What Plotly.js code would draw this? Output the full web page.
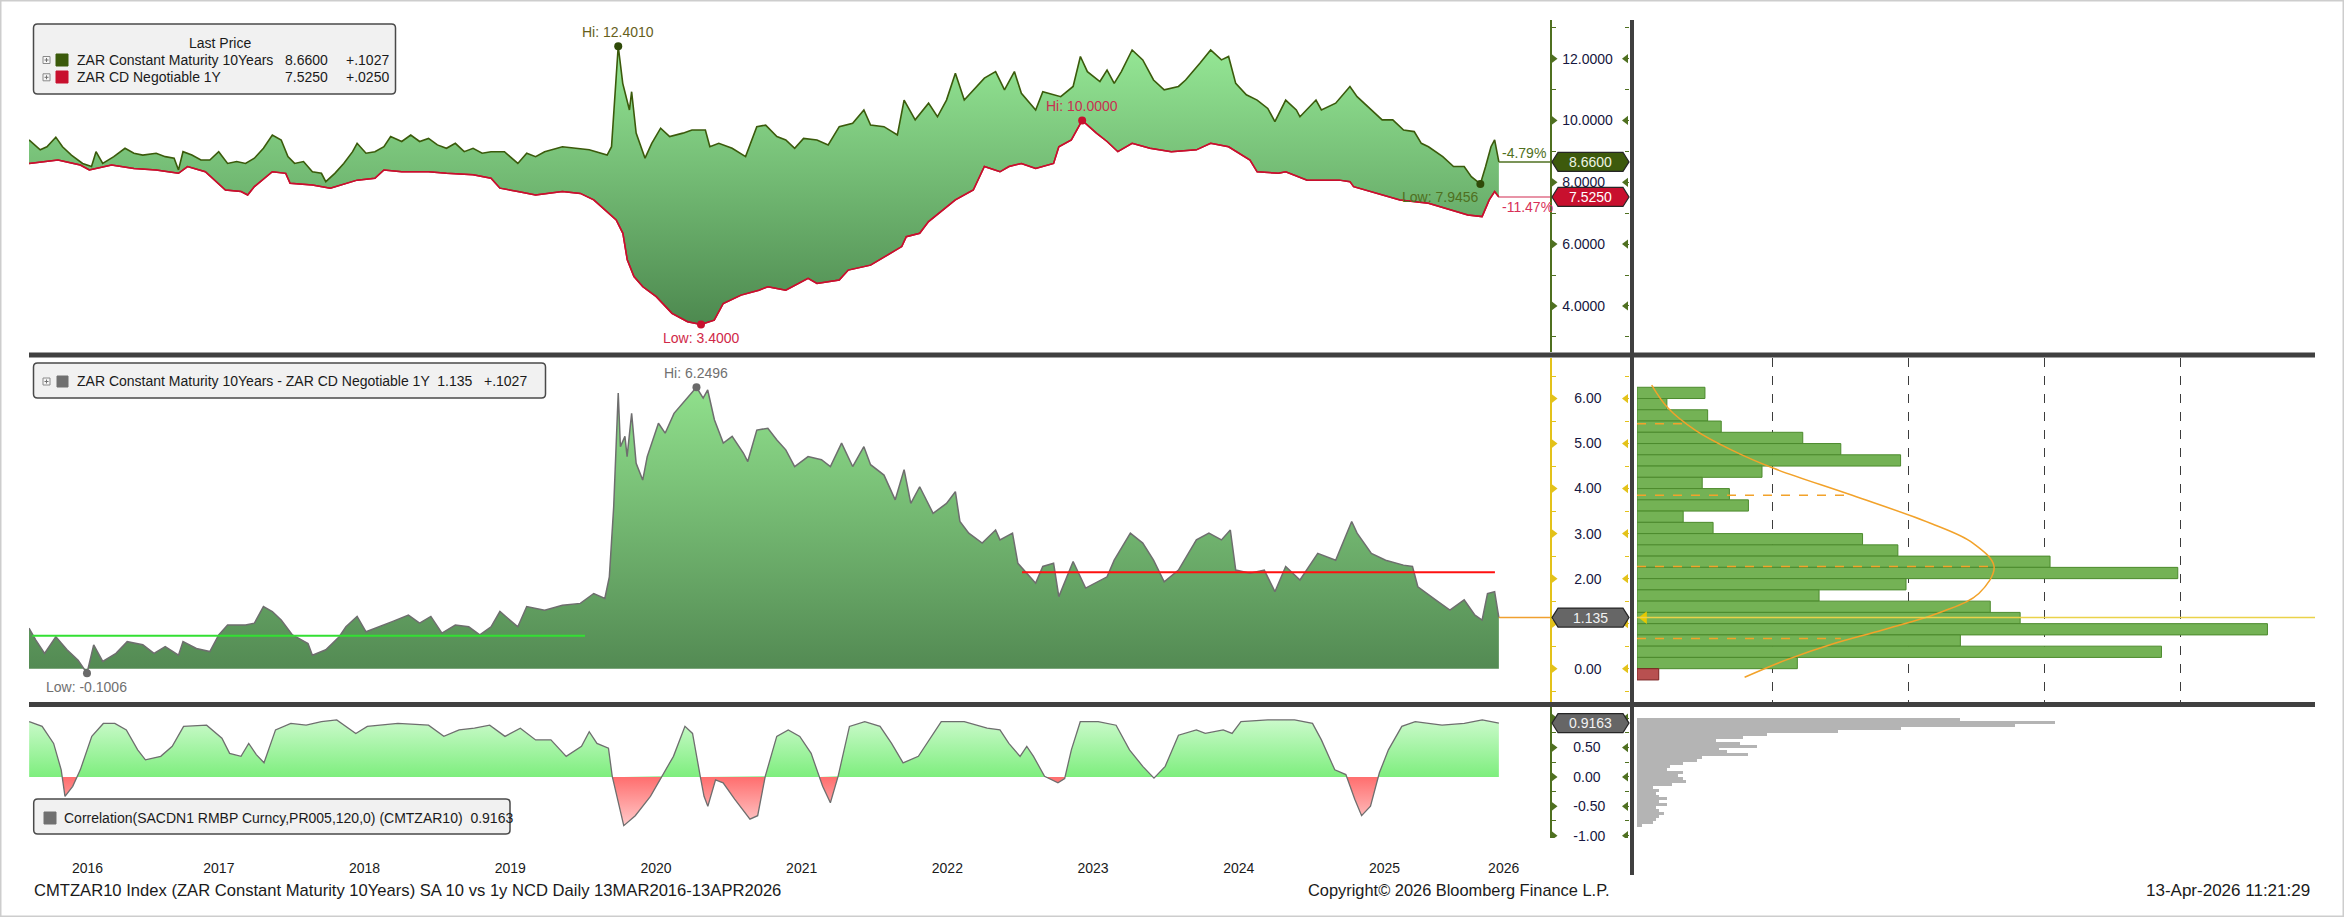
<!DOCTYPE html>
<html><head><meta charset="utf-8">
<script src="https://cdn.plot.ly/plotly-3.0.1.min.js"></script>
<style>html,body{margin:0;padding:0;background:#fff;}#chart{width:2344px;height:917px;}</style>
</head><body><div id="chart"></div>
<script>
// ---------------- DATA (x = decimal year) ----------------
const cm10Series = [[2016.197,9.37],[2016.274,9.05],[2016.320,9.15],[2016.381,9.46],[2016.427,9.15],[2016.488,8.88],[2016.565,8.61],[2016.626,8.51],[2016.657,8.99],[2016.703,8.61],[2016.779,8.83],[2016.856,9.10],[2016.917,8.94],[2016.978,8.88],[2017.070,8.94],[2017.132,8.83],[2017.193,8.78],[2017.223,8.40],[2017.254,8.99],[2017.315,8.88],[2017.377,8.72],[2017.438,8.72],[2017.499,8.99],[2017.560,8.61],[2017.622,8.67],[2017.683,8.61],[2017.744,8.78],[2017.806,9.10],[2017.867,9.53],[2017.928,9.37],[2017.974,8.83],[2018.020,8.61],[2018.081,8.67],[2018.142,8.34],[2018.204,8.29],[2018.234,8.02],[2018.296,8.29],[2018.357,8.61],[2018.418,8.99],[2018.449,9.26],[2018.510,8.94],[2018.571,8.99],[2018.633,9.15],[2018.679,9.48],[2018.755,9.32],[2018.817,9.53],[2018.878,9.32],[2018.939,9.42],[2019.000,9.21],[2019.062,9.10],[2019.123,9.26],[2019.184,8.99],[2019.245,9.10],[2019.307,8.94],[2019.368,8.99],[2019.460,8.99],[2019.552,8.61],[2019.613,8.94],[2019.674,8.83],[2019.736,8.99],[2019.858,9.15],[2019.950,9.10],[2020.042,9.05],[2020.165,8.88],[2020.195,9.15],[2020.241,12.401],[2020.272,11.20],[2020.318,10.34],[2020.333,10.93],[2020.364,9.59],[2020.425,8.78],[2020.471,9.26],[2020.532,9.75],[2020.594,9.48],[2020.685,9.59],[2020.747,9.69],[2020.839,9.69],[2020.870,9.15],[2020.931,9.26],[2021.023,9.10],[2021.115,8.83],[2021.192,9.80],[2021.253,9.85],[2021.330,9.48],[2021.391,9.37],[2021.452,9.10],[2021.513,9.42],[2021.605,9.37],[2021.682,9.21],[2021.758,9.80],[2021.850,9.91],[2021.927,10.34],[2021.973,9.85],[2022.065,9.80],[2022.157,9.53],[2022.203,10.66],[2022.279,10.02],[2022.371,10.56],[2022.432,10.12],[2022.494,10.66],[2022.555,11.53],[2022.616,10.66],[2022.678,10.99],[2022.754,11.37],[2022.831,11.58],[2022.892,10.99],[2022.960,11.58],[2023.008,10.88],[2023.106,10.34],[2023.155,10.93],[2023.278,10.77],[2023.363,11.10],[2023.413,12.07],[2023.461,11.58],[2023.547,11.26],[2023.596,11.63],[2023.645,11.20],[2023.694,11.58],[2023.768,12.28],[2023.841,11.96],[2023.915,11.31],[2023.988,10.99],[2024.086,11.10],[2024.135,11.31],[2024.233,11.85],[2024.307,12.28],[2024.381,11.96],[2024.430,12.07],[2024.479,11.20],[2024.552,10.83],[2024.626,10.66],[2024.699,10.39],[2024.748,9.96],[2024.822,10.66],[2024.895,10.34],[2024.920,10.12],[2025.030,10.66],[2025.067,10.34],[2025.165,10.56],[2025.263,11.10],[2025.312,10.77],[2025.410,10.34],[2025.484,10.02],[2025.557,10.02],[2025.631,9.69],[2025.704,9.64],[2025.753,9.26],[2025.802,9.15],[2025.900,8.83],[2025.974,8.51],[2026.047,8.51],[2026.096,8.18],[2026.158,7.9456],[2026.194,8.51],[2026.231,9.15],[2026.256,9.37],[2026.285,8.66]];

const ncdSeries = [[2016.197,8.61],[2016.396,8.72],[2016.549,8.56],[2016.611,8.40],[2016.764,8.56],[2016.917,8.45],[2017.070,8.40],[2017.223,8.29],[2017.285,8.51],[2017.407,8.34],[2017.545,7.75],[2017.652,7.70],[2017.698,7.59],[2017.744,7.86],[2017.867,8.34],[2017.959,8.29],[2017.989,7.97],[2018.142,7.91],[2018.265,7.81],[2018.418,8.02],[2018.449,8.07],[2018.571,8.13],[2018.633,8.40],[2018.755,8.34],[2018.939,8.34],[2019.062,8.29],[2019.245,8.24],[2019.368,8.13],[2019.429,7.81],[2019.552,7.70],[2019.674,7.59],[2019.858,7.70],[2019.981,7.64],[2020.073,7.43],[2020.165,7.05],[2020.227,6.78],[2020.273,6.35],[2020.303,5.49],[2020.349,4.95],[2020.410,4.62],[2020.502,4.30],[2020.610,3.76],[2020.717,3.49],[2020.809,3.40],[2020.900,3.54],[2020.962,4.08],[2021.084,4.35],[2021.207,4.51],[2021.268,4.62],[2021.391,4.51],[2021.544,4.89],[2021.605,4.73],[2021.758,4.84],[2021.820,5.16],[2021.973,5.32],[2022.065,5.59],[2022.187,5.92],[2022.218,6.24],[2022.310,6.35],[2022.371,6.73],[2022.494,7.21],[2022.555,7.43],[2022.678,7.75],[2022.754,8.51],[2022.861,8.34],[2022.923,8.51],[2023.008,8.61],[2023.106,8.45],[2023.229,8.61],[2023.265,9.15],[2023.351,9.37],[2023.425,10.00],[2023.523,9.59],[2023.596,9.32],[2023.670,8.99],[2023.768,9.26],[2023.890,9.10],[2024.037,8.99],[2024.209,9.05],[2024.307,9.26],[2024.430,9.15],[2024.577,8.72],[2024.626,8.34],[2024.773,8.29],[2024.822,8.34],[2024.969,8.07],[2025.190,8.07],[2025.263,8.02],[2025.288,7.86],[2025.410,7.70],[2025.606,7.43],[2025.802,7.32],[2025.949,7.10],[2026.072,6.94],[2026.170,6.89],[2026.219,7.43],[2026.256,7.70],[2026.285,7.525]];

const spreadSeries = [[2016.197,0.90],[2016.243,0.64],[2016.304,0.34],[2016.381,0.71],[2016.458,0.42],[2016.534,0.19],[2016.595,-0.1006],[2016.641,0.53],[2016.703,0.16],[2016.794,0.34],[2016.871,0.60],[2016.978,0.53],[2017.055,0.34],[2017.132,0.49],[2017.223,0.30],[2017.254,0.60],[2017.346,0.45],[2017.438,0.38],[2017.499,0.75],[2017.560,0.97],[2017.683,0.97],[2017.744,1.01],[2017.806,1.38],[2017.867,1.27],[2017.928,1.08],[2018.005,0.75],[2018.112,0.56],[2018.142,0.30],[2018.234,0.42],[2018.326,0.71],[2018.372,0.93],[2018.449,1.16],[2018.510,0.82],[2018.602,0.93],[2018.694,1.05],[2018.801,1.19],[2018.878,1.01],[2018.955,1.16],[2019.031,0.79],[2019.123,0.97],[2019.215,0.93],[2019.291,0.75],[2019.368,0.93],[2019.429,1.27],[2019.552,0.93],[2019.613,1.38],[2019.736,1.30],[2019.858,1.41],[2019.981,1.45],[2020.073,1.67],[2020.149,1.56],[2020.180,2.04],[2020.210,3.60],[2020.241,6.12],[2020.256,4.93],[2020.287,5.16],[2020.302,4.71],[2020.333,5.67],[2020.364,4.56],[2020.409,4.19],[2020.440,4.71],[2020.517,5.45],[2020.563,5.23],[2020.624,5.67],[2020.701,5.97],[2020.778,6.2496],[2020.824,6.01],[2020.855,6.19],[2020.901,5.53],[2020.962,5.01],[2021.023,5.16],[2021.100,4.79],[2021.130,4.60],[2021.192,5.30],[2021.268,5.34],[2021.330,5.08],[2021.391,4.86],[2021.452,4.49],[2021.544,4.71],[2021.636,4.64],[2021.697,4.49],[2021.774,5.01],[2021.850,4.49],[2021.927,4.93],[2021.973,4.53],[2022.065,4.30],[2022.142,3.75],[2022.203,4.42],[2022.249,3.67],[2022.310,4.04],[2022.402,3.45],[2022.494,3.67],[2022.555,3.93],[2022.586,3.27],[2022.647,3.01],[2022.739,2.79],[2022.831,3.08],[2022.861,2.86],[2022.947,3.01],[2022.984,2.34],[2023.106,1.90],[2023.155,2.27],[2023.229,2.34],[2023.265,1.60],[2023.363,2.38],[2023.449,1.79],[2023.596,2.04],[2023.645,2.41],[2023.756,3.01],[2023.841,2.79],[2023.915,2.41],[2023.988,1.93],[2024.086,2.19],[2024.209,2.86],[2024.295,3.01],[2024.381,2.86],[2024.442,3.08],[2024.479,2.19],[2024.577,2.12],[2024.675,2.19],[2024.748,1.71],[2024.822,2.27],[2024.920,1.97],[2025.042,2.56],[2025.165,2.41],[2025.275,3.27],[2025.312,3.01],[2025.410,2.56],[2025.508,2.41],[2025.630,2.30],[2025.692,2.27],[2025.729,1.82],[2025.851,1.53],[2025.949,1.30],[2026.047,1.53],[2026.121,1.19],[2026.170,1.08],[2026.207,1.67],[2026.256,1.71],[2026.285,1.135]];

const corrSeries = [[2016.198,0.94],[2016.287,0.86],[2016.366,0.57],[2016.418,0.12],[2016.444,-0.33],[2016.497,-0.16],[2016.549,0.12],[2016.628,0.69],[2016.707,0.91],[2016.786,0.91],[2016.865,0.80],[2016.943,0.46],[2016.996,0.29],[2017.101,0.35],[2017.180,0.52],[2017.258,0.86],[2017.416,0.88],[2017.521,0.66],[2017.574,0.40],[2017.652,0.35],[2017.705,0.57],[2017.757,0.38],[2017.810,0.24],[2017.889,0.80],[2017.994,0.91],[2018.099,0.88],[2018.204,0.94],[2018.309,0.97],[2018.440,0.74],[2018.519,0.86],[2018.729,0.91],[2018.939,0.88],[2019.044,0.69],[2019.149,0.80],[2019.254,0.83],[2019.359,0.88],[2019.464,0.69],[2019.569,0.83],[2019.674,0.63],[2019.779,0.63],[2019.884,0.35],[2019.989,0.52],[2020.042,0.77],[2020.095,0.57],[2020.174,0.49],[2020.200,0.01],[2020.279,-0.83],[2020.358,-0.66],[2020.462,-0.33],[2020.541,0.01],[2020.620,0.35],[2020.699,0.86],[2020.751,0.74],[2020.804,0.01],[2020.830,-0.33],[2020.856,-0.50],[2020.909,-0.05],[2020.961,-0.10],[2021.040,-0.38],[2021.145,-0.72],[2021.198,-0.66],[2021.250,0.01],[2021.329,0.69],[2021.408,0.80],[2021.487,0.69],[2021.565,0.40],[2021.644,-0.16],[2021.697,-0.44],[2021.750,0.01],[2021.828,0.86],[2021.933,0.94],[2022.038,0.86],[2022.117,0.57],[2022.196,0.24],[2022.301,0.35],[2022.458,0.94],[2022.616,0.94],[2022.773,0.83],[2022.861,0.80],[2022.922,0.57],[2022.999,0.35],[2023.045,0.52],[2023.091,0.35],[2023.167,0.01],[2023.259,-0.10],[2023.305,-0.03],[2023.351,0.46],[2023.412,0.94],[2023.535,0.94],[2023.658,0.88],[2023.750,0.46],[2023.841,0.18],[2023.918,-0.02],[2023.995,0.18],[2024.086,0.71],[2024.209,0.80],[2024.270,0.74],[2024.393,0.80],[2024.454,0.74],[2024.515,0.94],[2024.699,0.97],[2024.883,0.97],[2025.006,0.91],[2025.067,0.63],[2025.159,0.12],[2025.235,0.04],[2025.296,-0.38],[2025.343,-0.66],[2025.404,-0.50],[2025.465,0.07],[2025.527,0.46],[2025.619,0.86],[2025.711,0.94],[2025.895,0.88],[2026.048,0.91],[2026.171,0.97],[2026.232,0.94],[2026.285,0.9163]];

// spread distribution histogram (bin lower edge, relative count)
const spreadBinStarts = [6.00,5.75,5.50,5.25,5.00,4.75,4.50,4.25,4.00,3.75,3.50,3.25,3.00,2.75,2.50,2.25,2.00,1.75,1.50,1.25,1.00,0.75,0.50,0.25,0.00,-0.25];
const spreadBinCounts = [25,11,26,31,61,75,97,46,24,34,41,17,28,83,96,152,199,99,67,130,141,232,119,193,59,8];
// fitted normal curve (level, count)
const bellLevels = [6.30,5.79,5.30,4.86,4.45,3.85,3.23,2.79,2.27,1.67,1.27,0.86,0.56,0.19,-0.19];
const bellCounts = [5.4,11.4,21.4,34.7,50.3,79.2,108,123.6,131.4,125.8,112.5,90.4,72.5,54.7,39.6];
// mean / sigma guide lines (level, reach)
const sigmaLevels = [5.44,3.85,2.27,0.67];
const sigmaReach = [18,79,131,75];
// correlation distribution
const corrBinStarts = [0.95,0.90,0.85,0.80,0.75,0.70,0.65,0.60,0.55,0.50,0.45,0.40,0.35,0.30,0.25,0.20,0.15,0.10,0.05,0.00,-0.05,-0.10,-0.15,-0.20,-0.25,-0.30,-0.35,-0.40,-0.45,-0.50,-0.55,-0.60,-0.65,-0.70,-0.75,-0.80,-0.85];
const corrBinCounts = [119,154,139,97,74,48,39,29,38,44,30,33,41,24,22,17,12,11,17,15,17,18,13,6,8,7,8,11,8,11,7,8,10,8,7,6,2];
// horizontal reference lines on the spread panel [from, to, level]
const spreadGreenLine = [2016.22, 2020.013, 0.73];
const spreadRedLine = [2023.012, 2026.258, 2.14];
// axis ticks
const topTicks = [4,6,8,10,12];
const midTicks = [0,1,2,3,4,5,6];
const botTicks = [-1,-0.5,0,0.5,1];
const yearLabels = [2016,2017,2018,2019,2020,2021,2022,2023,2024,2025,2026];
// texts
const legendTop = [["ZAR Constant Maturity 10Years","8.6600","+.1027"],["ZAR CD Negotiable 1Y","7.5250","+.0250"]];
const legendMid = "ZAR Constant Maturity 10Years - ZAR CD Negotiable 1Y  1.135   +.1027";
const legendBot = "Correlation(SACDN1 RMBP Curncy,PR005,120,0) (CMTZAR10)  0.9163";
const pctLabels = ["-4.79%","-11.47%"];
const footerLeft = "CMTZAR10 Index (ZAR Constant Maturity 10Years) SA 10 vs 1y NCD Daily 13MAR2016-13APR2026";
const footerMid = "Copyright\u00a9 2026 Bloomberg Finance L.P.";
const footerRight = "13-Apr-2026 11:21:29";

// ---------------- RENDER ----------------
const W = 2344, H = 917;
const fx = p => p / W, fy = p => 1 - p / H;
const FONT = '"Liberation Sans", Arial, sans-serif';
const X0 = 2016.197, X1 = 2026.636;
const col = s => s.map(p => p[0]);
const val = s => s.map(p => p[1]);
const cmX = col(cm10Series), cmY = val(cm10Series);
const ncX = col(ncdSeries), ncY = val(ncdSeries);
const spX = col(spreadSeries), spY = val(spreadSeries);
const crX = col(corrSeries), crY = val(corrSeries);
const last = a => a[a.length - 1];
const argmax = a => a.indexOf(Math.max(...a));
const argmin = a => a.indexOf(Math.min(...a));

const GREEN = '#3b5a0b', RED = '#c8102e', AXG = '#4f7020', AXY = '#e3c21a', TICKTXT = '#161640';

// split correlation at zero for two-colour fill
function splitSign(xs, ys) {
  const pos = {x: [], y: []}, neg = {x: [], y: []};
  for (let i = 0; i < xs.length; i++) {
    if (i > 0 && (ys[i - 1] > 0) !== (ys[i] > 0) && ys[i - 1] !== ys[i]) {
      const xc = xs[i - 1] + (0 - ys[i - 1]) * (xs[i] - xs[i - 1]) / (ys[i] - ys[i - 1]);
      pos.x.push(xc); pos.y.push(0); neg.x.push(xc); neg.y.push(0);
    }
    pos.x.push(xs[i]); pos.y.push(Math.max(ys[i], 0));
    neg.x.push(xs[i]); neg.y.push(Math.min(ys[i], 0));
  }
  return {pos, neg};
}
const cs = splitSign(crX, crY);

const traces = [];
// --- top panel
traces.push({type: 'scatter', x: ncX, y: ncY, xaxis: 'x', yaxis: 'y', mode: 'lines', line: {color: RED, width: 1.5}, hoverinfo: 'skip'});
traces.push({type: 'scatter', x: cmX, y: cmY, xaxis: 'x', yaxis: 'y', mode: 'lines', line: {color: GREEN, width: 1.6}, fill: 'tonexty',
  fillgradient: {type: 'vertical', start: Math.min(...ncY), stop: Math.max(...cmY), colorscale: [[0, '#4d894f'], [1, '#95e795']]}, hoverinfo: 'skip'});
traces.push({type: 'scatter', x: ncX, y: ncY, xaxis: 'x', yaxis: 'y', mode: 'lines', line: {color: RED, width: 1.5}, hoverinfo: 'skip'});
// hi / low dots top
const iHi = argmax(cmY), iLo = argmin(cmY), jHi = argmax(ncY), jLo = argmin(ncY);
traces.push({type: 'scatter', x: [cmX[iHi], cmX[iLo]], y: [cmY[iHi], cmY[iLo]], xaxis: 'x', yaxis: 'y', mode: 'markers', marker: {color: '#2f4a08', size: 8}, hoverinfo: 'skip'});
traces.push({type: 'scatter', x: [ncX[jHi], ncX[jLo]], y: [ncY[jHi], ncY[jLo]], xaxis: 'x', yaxis: 'y', mode: 'markers', marker: {color: RED, size: 8}, hoverinfo: 'skip'});
// --- middle panel
traces.push({type: 'scatter', x: spX, y: spY, xaxis: 'x', yaxis: 'y2', mode: 'lines', line: {color: '#6e6e6e', width: 1.5}, fill: 'tozeroy',
  fillgradient: {type: 'vertical', start: 0, stop: Math.max(...spY), colorscale: [[0, '#538a53'], [1, '#90e08c']]}, hoverinfo: 'skip'});
const kHi = argmax(spY), kLo = argmin(spY);
traces.push({type: 'scatter', x: [spX[kHi], spX[kLo]], y: [spY[kHi], spY[kLo]], xaxis: 'x', yaxis: 'y2', mode: 'markers', marker: {color: '#6a6a6a', size: 8}, hoverinfo: 'skip'});
// histogram of spread
traces.push({type: 'bar', orientation: 'h', x: spreadBinCounts, y: spreadBinStarts.map(b => b + 0.125), width: 0.25, xaxis: 'x2', yaxis: 'y2',
  marker: {color: spreadBinStarts.map(b => b < 0 ? '#b85050' : '#74b255'), line: {color: spreadBinStarts.map(b => b < 0 ? '#7a2020' : '#4c8a2d'), width: 1}}, hoverinfo: 'skip'});
traces.push({type: 'scatter', x: bellCounts, y: bellLevels, xaxis: 'x2', yaxis: 'y2', mode: 'lines', line: {color: '#f2a22a', width: 1.5, shape: 'spline'}, hoverinfo: 'skip'});
traces.push({type: 'scatter', x: [2.6], y: [last(spY)], xaxis: 'x2', yaxis: 'y2', mode: 'markers', marker: {symbol: 'triangle-left', size: 11, color: '#e6c800'}, hoverinfo: 'skip'});
// --- bottom panel
traces.push({type: 'scatter', x: cs.pos.x, y: cs.pos.y, xaxis: 'x', yaxis: 'y3', mode: 'lines', line: {width: 0}, fill: 'tozeroy',
  fillgradient: {type: 'vertical', start: 0, stop: 1, colorscale: [[0, '#7eee7e'], [1, '#cdfacd']]}, hoverinfo: 'skip'});
traces.push({type: 'scatter', x: cs.neg.x, y: cs.neg.y, xaxis: 'x', yaxis: 'y3', mode: 'lines', line: {width: 0}, fill: 'tozeroy',
  fillgradient: {type: 'vertical', start: Math.min(...crY), stop: 0, colorscale: [[0, '#ffcaca'], [1, '#ff6e6e']]}, hoverinfo: 'skip'});
traces.push({type: 'scatter', x: crX, y: crY, xaxis: 'x', yaxis: 'y3', mode: 'lines', line: {color: '#6e6e6e', width: 1.3}, hoverinfo: 'skip'});
traces.push({type: 'bar', orientation: 'h', x: corrBinCounts, y: corrBinStarts.map(b => b + 0.025), width: 0.05, xaxis: 'x3', yaxis: 'y3',
  marker: {color: '#b4b4b4', line: {width: 0}}, hoverinfo: 'skip'});
// axis triangles (tick markers) on both sides of the label column
const triSets = [[topTicks, 'y4', AXG], [midTicks, 'y5', AXY], [botTicks, 'y6', AXG]];
triSets.forEach(([tv, ya, c]) => {
  traces.push({type: 'scatter', x: tv.map(() => 3.5), y: tv, xaxis: 'x4', yaxis: ya, mode: 'markers', marker: {symbol: 'triangle-right', size: 8, color: c}, hoverinfo: 'skip'});
  traces.push({type: 'scatter', x: tv.map(() => 76), y: tv, xaxis: 'x4', yaxis: ya, mode: 'markers', marker: {symbol: 'triangle-left', size: 8, color: c}, hoverinfo: 'skip'});
});

// x ticks at the middle of each visible year
const yearTickPos = yearLabels.map(y => (Math.max(y, X0) + Math.min(y + 1, X1)) / 2);

const pxTop = [20, 352], pxMid = [358, 702], pxBot = [707, 838];
const domOf = p => [fy(p[1]), fy(p[0])];
const domTop = domOf(pxTop), domMid = domOf(pxMid), domBot = domOf(pxBot);
const rTop = [2.51, 13.25], rMid = [-0.74, 6.90], rBot = [-1.04, 1.19];
// tick labels that sit under a value tag are hidden (as in the original, where the tag covers them)
function tickText(ticks, dec, px, rng, tagVals) {
  const ppu = (px[1] - px[0]) / (rng[1] - rng[0]);
  return ticks.map(v => tagVals.some(t => Math.abs(t - v) * ppu < 11) ? '' : v.toFixed(dec));
}
function yAx(dom, rng, ticks, labels, minor0, minorD, color, standoff) {
  return {domain: dom, range: rng, anchor: 'free', position: fx(1550), side: 'right', showline: true, linecolor: color, linewidth: 1.5,
    showgrid: false, zeroline: false, tickmode: 'array', tickvals: ticks, ticktext: labels,
    ticks: 'outside', ticklen: 4, tickcolor: color, tickfont: {family: FONT, size: 14, color: TICKTXT}, ticklabelstandoff: standoff,
    minor: {tickmode: 'linear', tick0: minor0, dtick: minorD, ticks: 'outside', ticklen: 4, tickcolor: color}, automargin: false, fixedrange: true};
}
function yAxR(dom, rng, ticks, minor0, minorD, color) {
  return {domain: dom, range: rng, anchor: 'free', position: fx(1629), side: 'left', showline: false, showgrid: false, zeroline: false,
    showticklabels: false, tickmode: 'array', tickvals: ticks, ticks: 'outside', ticklen: 4, tickcolor: color,
    minor: {tickmode: 'linear', tick0: minor0, dtick: minorD, ticks: 'outside', ticklen: 4, tickcolor: color}, automargin: false, fixedrange: true};
}

// ---------- shapes ----------
const shapes = [];
const pxLine = (x0, y0, x1, y1, color, width, dash) => ({type: 'line', xref: 'paper', yref: 'paper', x0: fx(x0), y0: fy(y0), x1: fx(x1), y1: fy(y1), line: {color, width, dash: dash || 'solid'}});
function roundRect(x0, y0, x1, y1, r) {
  const Y = v => -v;
  return `M${x0 + r},${Y(y0)} L${x1 - r},${Y(y0)} Q${x1},${Y(y0)} ${x1},${Y(y0 + r)} L${x1},${Y(y1 - r)} Q${x1},${Y(y1)} ${x1 - r},${Y(y1)} L${x0 + r},${Y(y1)} Q${x0},${Y(y1)} ${x0},${Y(y1 - r)} L${x0},${Y(y0 + r)} Q${x0},${Y(y0)} ${x0 + r},${Y(y0)} Z`;
}
const boxShape = (x0, y0, x1, y1) => ({type: 'path', xref: 'paper', yref: 'paper', xsizemode: 'pixel', ysizemode: 'pixel', xanchor: 0, yanchor: 1,
  path: roundRect(x0, y0, x1, y1, 4), fillcolor: '#f1f1f1', line: {color: '#4a4a4a', width: 1.5}});
const rectPx = (x0, y0, x1, y1, fill, lc) => ({type: 'rect', xref: 'paper', yref: 'paper', x0: fx(x0), y0: fy(y1), x1: fx(x1), y1: fy(y0), fillcolor: fill, line: {color: lc || fill, width: 1}});
const tagShape = (yref, v, fill) => ({type: 'path', xref: 'paper', yref, xsizemode: 'pixel', ysizemode: 'pixel', xanchor: 0, yanchor: v,
  path: 'M1552,0 L1558,9.5 L1623,9.5 L1629,0 L1623,-9.5 L1558,-9.5 Z', fillcolor: fill, line: {color: '#262626', width: 1.2}});
// small "expand" icon of the legend rows
const plusBox = (cx, cy) => [
  {type: 'rect', xref: 'paper', yref: 'paper', x0: fx(cx - 3.5), x1: fx(cx + 3.5), y0: fy(cy + 3.5), y1: fy(cy - 3.5), fillcolor: '#f6f6f6', line: {color: '#8a8a8a', width: 1}},
  pxLine(cx - 2, cy, cx + 2, cy, '#707070', 1), pxLine(cx, cy - 2, cx, cy + 2, '#707070', 1)];

// end-of-series guide lines
shapes.push({type: 'line', xref: 'x', yref: 'y', x0: last(cmX), x1: X1, y0: last(cmY), y1: last(cmY), line: {color: '#4f7020', width: 1.5}});
shapes.push({type: 'line', xref: 'x', yref: 'y', x0: last(ncX), x1: X1, y0: last(ncY), y1: last(ncY), line: {color: '#e0708a', width: 1.5}});
shapes.push({type: 'line', xref: 'x', yref: 'y2', x0: last(spX), x1: X1, y0: last(spY), y1: last(spY), line: {color: '#f0a030', width: 1.5}});
// reference lines on spread panel
shapes.push({type: 'line', xref: 'x', yref: 'y2', x0: spreadGreenLine[0], x1: spreadGreenLine[1], y0: spreadGreenLine[2], y1: spreadGreenLine[2], line: {color: '#33e033', width: 2}});
shapes.push({type: 'line', xref: 'x', yref: 'y2', x0: spreadRedLine[0], x1: spreadRedLine[1], y0: spreadRedLine[2], y1: spreadRedLine[2], line: {color: '#ff1010', width: 2}});
// sigma guide lines and current-level line in histogram
sigmaLevels.forEach((lv, i) => shapes.push({type: 'line', xref: 'x2', yref: 'y2', x0: 0, x1: sigmaReach[i], y0: lv, y1: lv, line: {color: '#f2a22a', width: 1.5, dash: 'dash'}}));
shapes.push({type: 'line', xref: 'paper', yref: 'y2', x0: fx(1637), x1: fx(2315), y0: last(spY), y1: last(spY), line: {color: '#ead24a', width: 1.5}});
// separators and frame
shapes.push(pxLine(29, 355, 2315, 355, '#404040', 5));
shapes.push(pxLine(29, 704.5, 2315, 704.5, '#404040', 5));
shapes.push(pxLine(1632, 20, 1632, 875, '#404040', 4));
shapes.push({type: 'rect', xref: 'paper', yref: 'paper', x0: 0, y0: 0, x1: 1, y1: 1, line: {color: '#cdcdcd', width: 3}});
// legend boxes
shapes.push(boxShape(33.5, 24, 395.5, 94));
shapes.push(rectPx(56, 54, 68, 66, GREEN));
shapes.push(rectPx(56, 71, 68, 83, RED));
shapes.push(...plusBox(46.5, 60), ...plusBox(46.5, 77.3));
shapes.push(boxShape(33.5, 363, 545.5, 398));
shapes.push(rectPx(57, 376, 68, 387, '#707070'));
shapes.push(...plusBox(46.5, 381.5));
shapes.push(boxShape(33.7, 799, 510, 834));
shapes.push(rectPx(44, 812, 56, 824, '#707070'));
// value tags
shapes.push(tagShape('y', last(cmY), '#3d5a0c'));
shapes.push(tagShape('y', last(ncY), '#c8102e'));
shapes.push(tagShape('y2', last(spY), '#666666'));
shapes.push(tagShape('y3', last(crY), '#666666'));

// ---------- annotations ----------
const anns = [];
const txt = (text, xpx, ypx, o = {}) => anns.push({text, x: fx(xpx), y: fy(ypx), xref: 'paper', yref: 'paper', xanchor: o.xa || 'left', yanchor: 'middle',
  showarrow: false, font: {family: o.family || FONT, size: o.size || 14, color: o.color || '#1a1a1a'}});
const dtxt = (text, x, y, yref, o = {}) => anns.push({text, x, y, xref: o.xref || 'x', yref, xanchor: o.xa || 'center', yanchor: o.ya || 'middle',
  xshift: o.xs || 0, yshift: o.ys || 0, showarrow: false, font: {family: FONT, size: o.size || 14, color: o.color || '#1a1a1a'}});

txt('Last Price', 220, 43, {xa: 'center'});
legendTop.forEach((row, i) => {
  const y = 60 + i * 17.3;
  txt(row[0], 75, y);
  txt(row[1], 330, y, {xa: 'right'});
  txt(row[2], 344, y);
});
txt(legendMid, 75, 381);
txt(legendBot, 62, 818);
// tags text
dtxt(last(cmY).toFixed(4), fx(1590.5), last(cmY), 'y', {xref: 'paper', color: '#eef4e4'});
dtxt(last(ncY).toFixed(4), fx(1590.5), last(ncY), 'y', {xref: 'paper', color: '#ffffff'});
dtxt(String(last(spY)), fx(1590.5), last(spY), 'y2', {xref: 'paper', color: '#f2f2f2'});
dtxt(last(crY).toFixed(4), fx(1590.5), last(crY), 'y3', {xref: 'paper', color: '#f2f2f2'});
// percent labels
dtxt(pctLabels[0], last(cmX), last(cmY), 'y', {xa: 'left', xs: 1, ys: 9, color: '#4f7020'});
dtxt(pctLabels[1], last(ncX), last(ncY), 'y', {xa: 'left', xs: 1, ys: -10, color: '#d83058'});
// hi / low labels
dtxt('Hi: ' + cmY[iHi].toFixed(4), cmX[iHi], cmY[iHi], 'y', {ya: 'bottom', ys: 4, color: '#66601c'});
dtxt('Low: ' + cmY[iLo].toFixed(4), cmX[iLo], cmY[iLo], 'y', {xa: 'right', ya: 'top', ys: -3, color: '#4f7020'});
dtxt('Hi: ' + ncY[jHi].toFixed(4), ncX[jHi], ncY[jHi], 'y', {ya: 'bottom', ys: 4, color: '#c83050'});
dtxt('Low: ' + ncY[jLo].toFixed(4), ncX[jLo], ncY[jLo], 'y', {ya: 'top', ys: -4, color: '#d02848'});
dtxt('Hi: ' + spY[kHi].toFixed(4), spX[kHi], spY[kHi], 'y2', {ya: 'bottom', ys: 4, color: '#707070'});
dtxt('Low: ' + spY[kLo].toFixed(4), spX[kLo], spY[kLo], 'y2', {ya: 'top', ys: -4, color: '#707070'});
// footer
txt(footerLeft, 32, 890, {size: 16.6});
txt(footerMid, 1306, 890, {size: 16.4});
txt(footerRight, 2312, 890, {xa: 'right', size: 17});

const layout = {
  width: W, height: H, margin: {l: 0, r: 0, t: 0, b: 0}, paper_bgcolor: '#ffffff', plot_bgcolor: 'rgba(0,0,0,0)',
  showlegend: false, font: {family: FONT}, bargap: 0,
  xaxis: {domain: [fx(29), fx(1550)], range: [X0, X1], anchor: 'y3', showgrid: false, zeroline: false, showline: false,
    tickmode: 'array', tickvals: yearTickPos, ticktext: yearLabels.map(String), ticks: '', ticklabelstandoff: 20,
    tickfont: {family: FONT, size: 14, color: '#1a1a1a'}, automargin: false, fixedrange: true},
  xaxis2: {domain: [fx(1637), fx(2315)], range: [0, 249.5], anchor: 'y2', showgrid: true, gridcolor: '#3c3c3c', griddash: 'dash', gridwidth: 1,
    tickmode: 'linear', tick0: 0, dtick: 50, showticklabels: false, ticks: '', zeroline: false, showline: false, automargin: false, fixedrange: true},
  xaxis3: {domain: [fx(1637), fx(2315)], range: [0, 249.5], anchor: 'y3', visible: false, fixedrange: true},
  xaxis4: {domain: [fx(1550), fx(1632)], range: [0, 82], anchor: 'y4', visible: false, fixedrange: true},
  yaxis: yAx(domTop, rTop, topTicks, tickText(topTicks, 4, pxTop, rTop, [last(cmY), last(ncY)]), 1, 2, AXG, 4),
  yaxis2: yAx(domMid, rMid, midTicks, tickText(midTicks, 2, pxMid, rMid, [last(spY)]), 0.5, 1, AXY, 16),
  yaxis3: yAx(domBot, rBot, botTicks, tickText(botTicks, 2, pxBot, rBot, [last(crY)]), 0.25, 0.5, AXG, 15),
  yaxis4: yAxR(domTop, rTop, topTicks, 1, 2, AXG),
  yaxis5: yAxR(domMid, rMid, midTicks, 0.5, 1, AXY),
  yaxis6: yAxR(domBot, rBot, botTicks, 0.25, 0.5, AXG),
  shapes, annotations: anns
};
Plotly.newPlot('chart', traces, layout, {displayModeBar: false, staticPlot: true});
</script></body></html>
